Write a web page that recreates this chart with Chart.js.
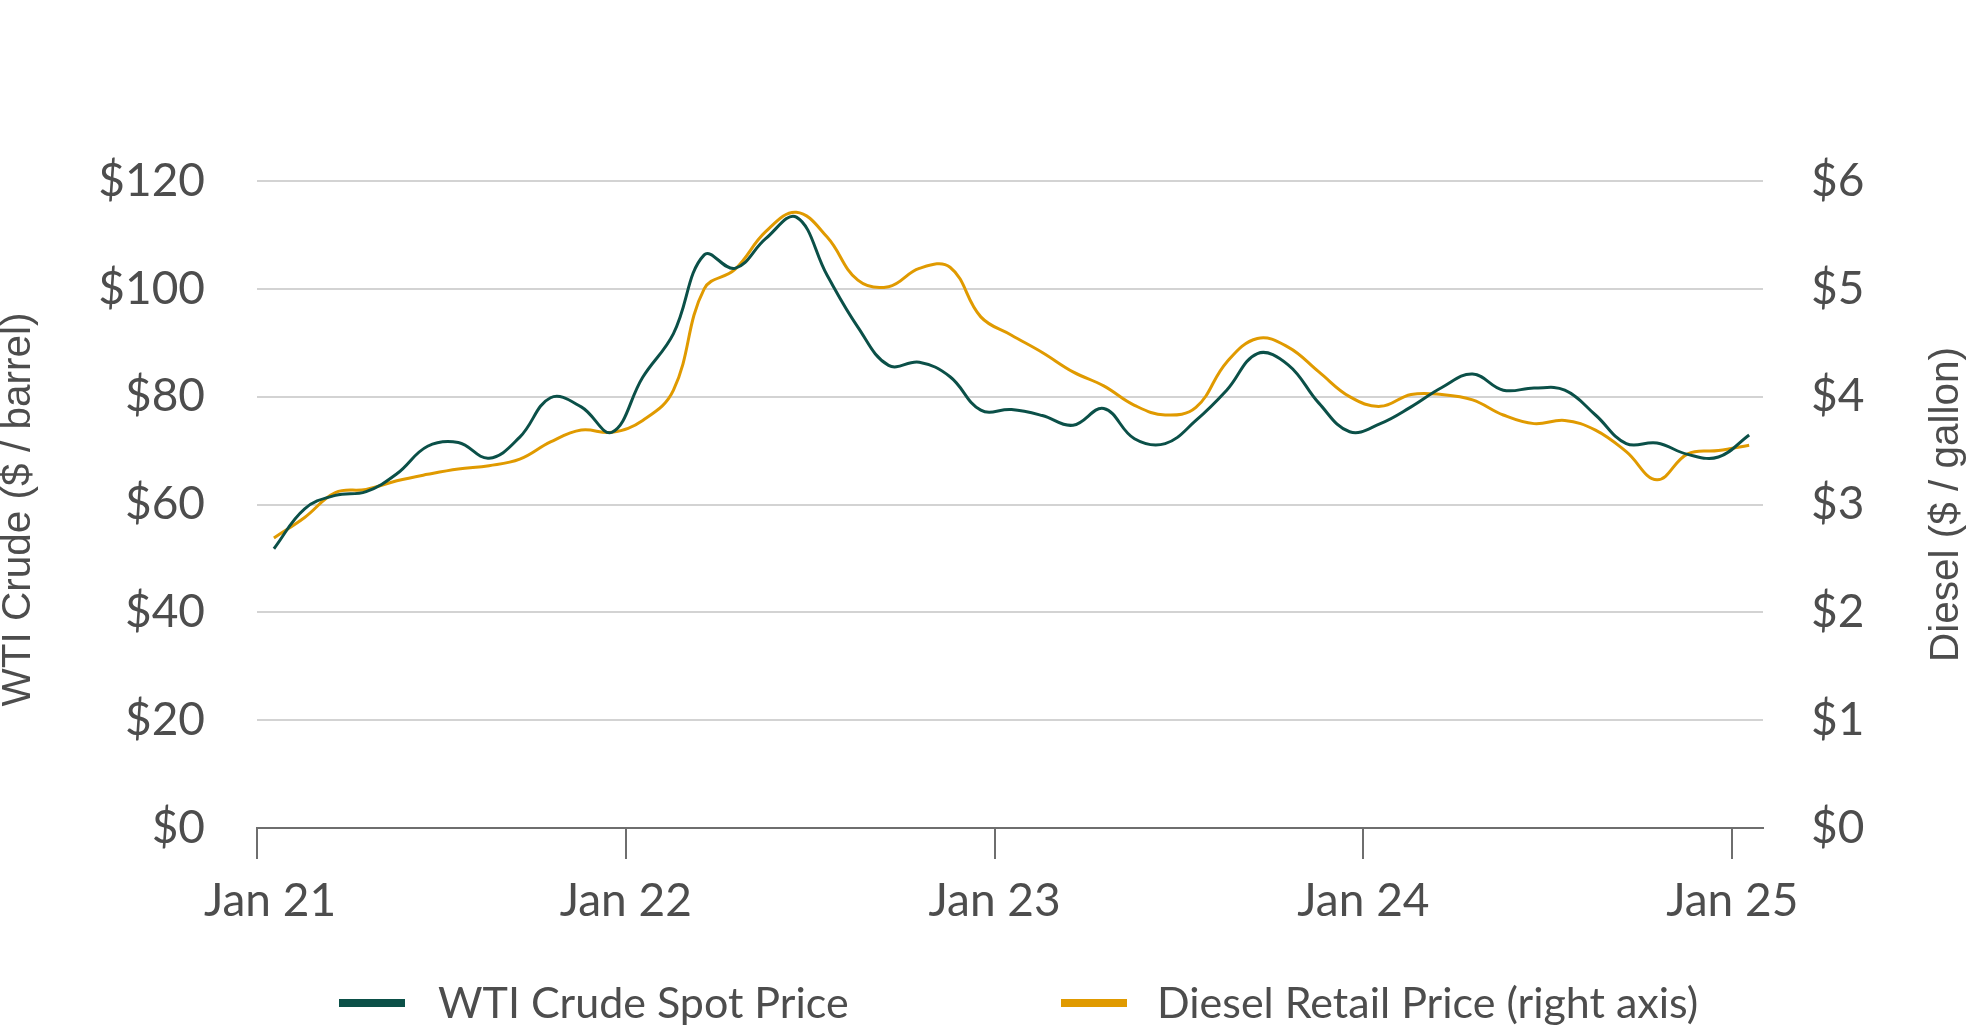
<!DOCTYPE html>
<html>
<head>
<meta charset="utf-8">
<script src="https://cdn.jsdelivr.net/npm/chart.js@4"></script>
<style>
  html, body { margin: 0; padding: 0; background: #ffffff; }
  #wrap { position: relative; width: 1967px; height: 1026px; overflow: hidden; }
  #c { position: absolute; left: 0; top: 0; }
  .lg { position: absolute; font-family: Lato, "Liberation Sans", sans-serif; font-size: 43px; line-height: 43px; color: #4d4d4d; white-space: nowrap; }
  .sw { position: absolute; height: 8px; width: 66px; }
</style>
</head>
<body>
<div id="wrap">
  <canvas id="c" width="1967" height="1026"></canvas>
  <div class="sw" style="left:339px; top:999px; background:#0b5048;"></div>
  <div class="lg" style="left:438px; top:980px;">WTI Crude Spot Price</div>
  <div class="sw" style="left:1061px; top:999px; background:#e09a00;"></div>
  <div class="lg" style="left:1157px; top:980px;">Diesel Retail Price (right axis)</div>
</div>
<script>
// Months (monthly averages, Jan 2021 – Jan 2025)
const months = [
  '2021-01','2021-02','2021-03','2021-04','2021-05','2021-06','2021-07','2021-08','2021-09','2021-10','2021-11','2021-12',
  '2022-01','2022-02','2022-03','2022-04','2022-05','2022-06','2022-07','2022-08','2022-09','2022-10','2022-11','2022-12',
  '2023-01','2023-02','2023-03','2023-04','2023-05','2023-06','2023-07','2023-08','2023-09','2023-10','2023-11','2023-12',
  '2024-01','2024-02','2024-03','2024-04','2024-05','2024-06','2024-07','2024-08','2024-09','2024-10','2024-11','2024-12',
  '2025-01'
];

// WTI crude spot price ($ / barrel)
const wti = [
  51.8, 59.2, 61.7, 62.4, 65.7, 70.8, 71.5, 68.6, 72.5, 79.8, 78.1, 73.4,
  83.6, 91.7, 106.3, 103.8, 109.3, 113.3, 102.5, 92.9, 85.8, 86.4, 83.7, 77.5,
  77.6, 76.5, 74.7, 77.8, 72.2, 71.3, 75.6, 81.2, 88.0, 85.9, 78.8, 73.5,
  75.0, 78.1, 81.7, 84.2, 81.2, 81.6, 81.2, 76.6, 71.3, 71.4, 69.3, 68.8,
  72.9
];

// Diesel retail price ($ / gallon)
const diesel = [
  2.69, 2.88, 3.11, 3.14, 3.22, 3.28, 3.33, 3.36, 3.42, 3.58, 3.69, 3.67,
  3.78, 4.06, 5.00, 5.18, 5.53, 5.71, 5.48, 5.08, 5.02, 5.19, 5.20, 4.74,
  4.57, 4.41, 4.23, 4.10, 3.92, 3.83, 3.90, 4.32, 4.54, 4.46, 4.23, 4.00,
  3.91, 4.02, 4.02, 3.97, 3.83, 3.75, 3.78, 3.69, 3.49, 3.23, 3.47, 3.50,
  3.55
];

// X tick labels (every January)
const xTickLabels = ['Jan 21', 'Jan 22', 'Jan 23', 'Jan 24', 'Jan 25'];
const leftTicks = [0, 20, 40, 60, 80, 100, 120];
const rightTicks = [0, 1, 2, 3, 4, 5, 6];
const leftTitle = 'WTI Crude ($ / barrel)';
const rightTitle = 'Diesel ($ / gallon)';

const MID = 0.55; // monthly average plotted mid-month
const toPoints = arr => arr.map((v, i) => ({ x: i + MID, y: v }));

const FONT = 'Lato, "Liberation Sans", sans-serif';
const TITLE_FONT = '40.5px "Liberation Sans", Arial, sans-serif';
const TXT = '#4d4d4d';
const TICK_FONT_SIZE = 46;

// Draws the x tick labels (first one nudged inward) and both y titles reading bottom-to-top
const textPlugin = {
  id: 'textPlugin',
  afterDraw(chart) {
    const { ctx, chartArea, scales } = chart;
    ctx.save();
    ctx.fillStyle = TXT;
    // x tick labels
    const xs = scales.x;
    ctx.font = TICK_FONT_SIZE + 'px ' + FONT;
    ctx.textAlign = 'center';
    ctx.textBaseline = 'middle';
    const ly = xs.top + 31 + 15 + TICK_FONT_SIZE * 1.2 / 2;
    xs.ticks.forEach((t, i) => {
      const px = xs.getPixelForValue(t.value) + (i === 0 ? 13 : 0);
      ctx.fillText(xTickLabels[i], px, ly);
    });
    // y axis titles
    ctx.font = TITLE_FONT;
    const midY = (chartArea.top + chartArea.bottom) / 2;
    const items = [
      [leftTitle, scales.y.left + 19, midY + 5],
      [rightTitle, scales.y2.right - 20, midY]
    ];
    items.forEach(([txt, x, y]) => {
      ctx.save();
      ctx.translate(x, y);
      ctx.rotate(-Math.PI / 2);
      ctx.fillText(txt, 0, 0);
      ctx.restore();
    });
    ctx.restore();
  }
};

new Chart(document.getElementById('c'), {
  type: 'line',
  data: {
    datasets: [
      {
        label: 'WTI Crude Spot Price',
        data: toPoints(wti),
        yAxisID: 'y',
        borderColor: '#0b5048',
        borderWidth: 3,
        pointRadius: 0,
        tension: 0.4,
        fill: false
      },
      {
        label: 'Diesel Retail Price (right axis)',
        data: toPoints(diesel),
        yAxisID: 'y2',
        borderColor: '#e09a00',
        borderWidth: 3,
        pointRadius: 0,
        tension: 0.4,
        fill: false
      }
    ]
  },
  plugins: [textPlugin],
  options: {
    responsive: false,
    animation: false,
    layout: { padding: { top: 181, bottom: 98, left: 0, right: 0 } },
    plugins: { legend: { display: false }, tooltip: { enabled: false } },
    scales: {
      x: {
        type: 'linear',
        min: 0,
        max: months.length,
        afterBuildTicks: s => { s.ticks = xTickLabels.map((l, i) => ({ value: i * 12 })); },
        afterFit: s => { s.height = 100; },
        ticks: { display: false, autoSkip: false, maxRotation: 0 },
        grid: { drawOnChartArea: false, drawTicks: true, tickLength: 31, color: '#6e6e6e', lineWidth: 2 },
        border: { display: true, color: '#6e6e6e', width: 2 }
      },
      y: {
        position: 'left',
        min: 0,
        max: 120,
        afterBuildTicks: s => { s.ticks = leftTicks.map(v => ({ value: v })); },
        afterFit: s => { s.width = 257; },
        ticks: {
          padding: 52,
          color: TXT,
          font: { family: FONT, size: TICK_FONT_SIZE },
          callback: v => '$' + v
        },
        grid: { drawTicks: false, color: '#d3d3d3', lineWidth: 2 },
        border: { display: false }
      },
      y2: {
        position: 'right',
        min: 0,
        max: 6,
        afterBuildTicks: s => { s.ticks = rightTicks.map(v => ({ value: v })); },
        afterFit: s => { s.width = 204; },
        ticks: {
          padding: 48,
          color: TXT,
          font: { family: FONT, size: TICK_FONT_SIZE },
          callback: v => '$' + v
        },
        grid: { display: false, drawTicks: false },
        border: { display: false }
      }
    }
  }
});
</script>
</body>
</html>
